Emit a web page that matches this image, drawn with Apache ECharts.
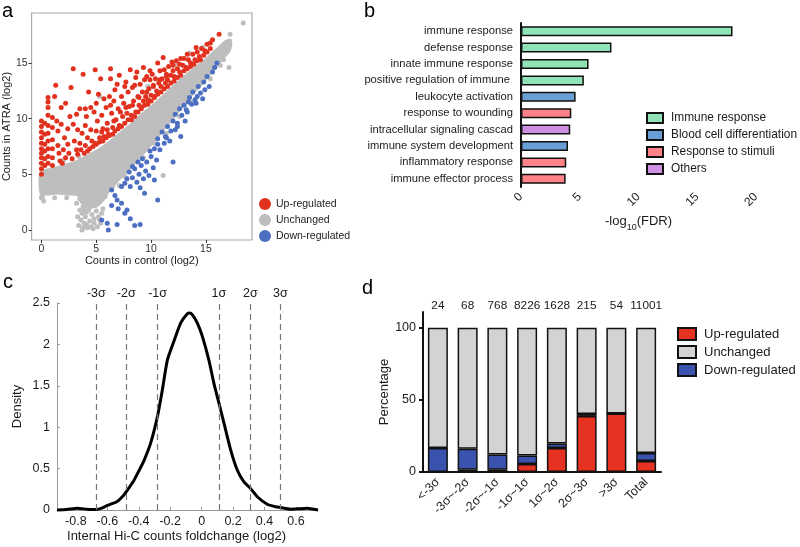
<!DOCTYPE html>
<html>
<head>
<meta charset="utf-8">
<script src="https://cdn.jsdelivr.net/npm/echarts@6/dist/echarts.min.js"></script>
<style>
  html, body { margin: 0; padding: 0; background: #fff; }
  #main { width: 800px; height: 547px; }
</style>
</head>
<body>
<div id="main"></div>
<script>
// ---------- panel a : counts scatter ----------
// dense gray cloud, outline (upper edge left->right, lower edge right->left)
var bandTop = [[-0.15,5.3],[1,5.6],[2,5.9],[3,6.2],[4,6.7],[5,7.2],[6,7.9],[7,8.7],[8,9.5],[9,10.4],[10,11.2],[11,12.1],[12,13.0],[13,13.9],[14,14.7],[15,15.5],[16,16.4],[16.8,17.1],[17.3,17.2],[17.4,16.6]];
var bandBottom = [[17.2,16.0],[16.5,15.2],[16,14.6],[15,13.4],[14,12.3],[13,11.1],[12,9.9],[11,8.7],[10,7.5],[9,6.4],[8,5.3],[7,4.3],[6.2,3.4],[5.7,2.6],[5.3,2.2],[4.6,1.9],[4.0,2.0],[3.5,2.5],[3.3,3.0],[2.5,3.1],[1.5,3.2],[0.5,3.1],[-0.15,3.2]];
var grayPts = [[18.4,18.6],[17.1,14.6],[16.6,15.3],[17.2,17.6],[11.1,4.9],[5.3,12.0],[3.7,0.0],[3.6,0.9],[3.7,1.5],[3.8,2.1],[4.0,1.2],[4.1,0.5],[4.3,1.8],[4.4,0.8],[4.6,1.4],[4.8,0.6],[4.9,2.2],[5.0,1.7],[5.1,0.3],[5.2,1.2],[5.6,1.9],[4.2,0.2],[3.9,0.6],[4.7,0.1],[5.4,0.6],[3.5,1.8],[5.8,3.0],[6.5,3.9],[7.1,4.0],[7.6,4.8],[8.2,5.7],[9.3,6.5],[10.3,7.8],[11.4,8.7],[12.6,10.2],[13.6,11.5],[15.4,13.6],[16.3,14.8],[0,2.9],[0.2,2.6],[0.1,3.0],[1.2,2.9],[2.3,2.9],[0.0,4.0],[2.0,6.3],[3.4,6.6],[12.2,14.9],[14.7,16.4],[13.5,15.9],[9.7,12.9],
  [3.3,1.2],[3.4,0.4],[3.5,2.8],[4.0,2.5],[4.4,2.7],[4.5,0.3],[4.8,1.0],[5.3,0.9],[5.5,1.5],[3.8,0.2],[4.1,1.6],[4.6,2.5],[3.2,2.4],[3.9,1.8]];
var redPts = [[0,5.0],[0,5.5],[0,6.0],[0,6.5],[0,6.9],[0,7.3],[0,7.8],[0,8.3],[0,8.8],[0,9.3],[0,9.8],
  [0.3,5.8],[0.3,6.4],[0.3,7.1],[0.3,7.7],[0.3,8.6],[0.3,9.6],
  [0.6,6.0],[0.6,6.6],[0.6,7.3],[0.6,8.0],[0.6,8.7],[0.6,9.4],[0.6,10.3],[0.6,11.0],[0.6,11.5],[0.6,11.9],
  [1.0,5.8],[1.0,6.5],[1.0,7.3],[1.0,8.1],[1.0,9.2],[1.0,10.1],
  [1.3,13.0],[1.2,12.0],[1.4,9.8],[1.5,8.9],[1.5,7.6],[1.6,6.9],[1.7,6.2],[1.9,6.0],
  [2.0,7.2],[2.1,8.3],[2.2,6.5],[2.4,7.7],[2.5,6.9],[2.6,10.2],[2.7,12.8],[2.9,14.5],[2.8,6.4],
  [3.0,8.0],[3.2,7.2],[3.3,9.0],[3.5,10.9],[3.5,7.8],[3.7,8.7],[3.8,14.0],[3.9,6.9],[4.0,9.4],[4.0,7.6],[4.1,10.2],[4.2,8.3],[4.3,12.4],[4.4,7.3],[4.5,9.0],[4.6,8.0],[4.8,10.6],[4.9,14.4],[4.9,7.8],[5.0,8.9],[5.1,9.8],[5.2,12.2],[5.3,8.3],[5.4,13.6],[5.5,10.3],[5.6,9.1],[5.7,8.4],[5.9,11.0],[6.0,9.6],[6.1,8.6],[6.2,12.0],[6.3,14.5],[6.3,13.6],[6.4,10.5],[6.5,9.2],[6.6,11.6],[6.8,9.9],[6.9,13.1],[7.0,10.9],[7.1,13.9],[7.1,9.4],[7.3,12.0],[7.4,10.2],[7.5,11.4],[7.7,13.3],[7.8,10.5],[7.9,12.4],[8.0,11.1],[8.1,14.4],[8.2,9.9],[8.3,12.8],[8.4,11.6],[8.5,13.0],[8.6,10.6],[8.7,14.2],[8.8,12.0],[8.9,11.2],[9.0,13.1],[9.1,10.9],[9.2,12.4],[9.3,11.6],[9.4,13.5],[9.5,12.0],[9.6,13.8],[9.7,11.7],[9.8,12.7],[9.9,13.5],[10.0,12.1],[10.1,14.0],[10.2,12.9],[10.3,11.9],[10.4,13.6],[10.5,12.5],[10.6,15.0],[10.7,13.2],[10.8,14.3],[10.9,12.9],[11.0,13.6],[11.1,15.5],[11.2,14.4],[11.3,13.2],[11.4,14.0],[11.5,13.5],[11.6,14.7],[11.8,13.9],[11.9,15.1],[12.0,14.3],[12.1,13.8],[12.3,15.2],[12.4,14.5],[12.6,14.2],[12.7,15.4],[12.9,14.8],[13.0,15.4],[13.2,14.6],[13.4,15.3],[13.6,15.0],[13.8,15.8],[14.0,15.3],[14.2,16.0],[14.4,15.6],[14.6,16.3],[14.9,16.1],[15.1,16.7],[15.4,16.8],[15.6,17.1],[16.2,17.6],
  [3.3,6.8],[3.6,7.2],[4.2,7.1],[4.7,7.5],[5.0,7.7],[5.3,7.9],[5.6,8.0],[5.9,8.3],[6.2,8.5],[6.5,8.6],[6.7,8.9],[7.0,9.1],[7.3,9.3],[7.6,9.6],[7.9,9.9],[8.2,10.3],[8.5,10.2],[8.8,10.6],[9.1,11.0],[9.4,11.2],[9.7,11.3],[10.0,11.6],[10.3,12.0],[10.6,12.2],[10.9,12.4],[11.2,12.7],[11.5,12.9],[11.8,13.2],[12.1,13.4],[12.4,13.7],[12.7,13.9],[13.0,14.3],[13.3,14.5],[13.6,14.7],[13.9,14.9],[14.2,15.2],[14.5,15.3],[14.8,15.7],[15.1,16.0],[15.4,16.3],
  [5.5,8.8],[6.0,9.0],[6.6,9.8],[7.2,10.6],[7.7,11.0],[8.3,11.2],[8.9,11.9],[9.6,12.4],[10.2,13.0],[10.8,13.5],[11.4,13.8],[12.0,14.8],[12.6,14.9],[13.3,15.8],[14.1,16.4],[6.3,11.2],[5.7,11.8],[5.0,11.4],[4.5,11.0],[6.7,12.6],[7.6,12.9],[8.6,13.7],[9.3,14.6],[9.9,14.3],[4.0,10.9],[3.2,10.4],[2.9,9.5],[2.4,9.1],[1.8,9.5],[2.2,11.4],[1.8,11.0]];
var bluePts = [[5.5,0.9],[6.0,0.6],[6.1,0.0],[6.9,0.5],[6.4,2.2],[6.9,2.7],[7.0,1.9],[7.3,2.4],[7.6,1.5],[7.8,1.8],[8.1,1.0],[8.5,0.4],[9.0,0.5],[6.4,3.6],[6.7,3.1],[7.3,3.9],[10.6,2.7],[9.4,3.3],
  [7.6,4.2],[7.8,4.6],[8.0,5.2],[8.1,3.9],[8.3,4.7],[8.5,5.5],[8.7,4.3],[8.9,5.0],[9.0,3.8],[9.1,5.8],[9.3,4.6],[9.5,5.3],[9.6,6.1],[9.8,4.9],[10.0,6.6],[10.2,5.6],[10.3,4.5],[10.5,6.3],[12.0,6.1],
  [10.3,7.3],[10.6,8.2],[10.8,7.2],[11.0,8.8],[11.2,7.8],[11.3,8.4],[11.5,9.3],[11.7,8.0],[11.8,8.9],[12.0,9.8],[12.2,9.0],[12.2,10.4],[12.4,9.6],[12.6,10.9],[12.7,8.4],[12.8,10.3],[13.0,11.2],[13.1,9.8],[13.2,10.8],
  [13.4,11.5],[13.5,11.9],[13.7,11.3],[13.8,12.4],[14.0,11.7],[14.2,12.0],[14.3,12.9],[14.5,12.3],[14.7,11.8],[14.8,13.3],[15.1,13.8],[15.3,12.9],[15.6,14.2],[15.8,14.6],[16.0,15.0],
  [8.8,6.1],[9.2,6.4],[9.9,7.1],[10.6,7.7],[11.4,8.3],[12.4,9.3],[13.3,10.6],[14.1,11.4],[14.9,12.6],[8.3,5.7]];
var aTicks = [0, 5, 10, 15];

// ---------- panel b : GO terms ----------
var goTerms = ['immune response','defense response','innate immune response','positive regulation of immune ','leukocyte activation','response to wounding','intracellular signaling cascad','immune system development','inflammatory response','immune effector process'];
var goValues = [18.0, 7.7, 5.75, 5.35, 4.65, 4.28, 4.19, 4.0, 3.85, 3.8];
var goGroup = [0, 0, 0, 0, 1, 2, 3, 1, 2, 2];
var goGroupNames = ['Immune response','Blood cell differentiation','Response to stimuli','Others'];
var goColors = ['#8FE3B7', '#6A9FD6', '#FF8288', '#CF8FE2'];

// ---------- panel c : density ----------
var densityPts = [[-0.92,0.0],[-0.86,0.005],[-0.79,0.02],[-0.73,0.01],[-0.68,0.005],[-0.64,0.02],[-0.6,0.055],[-0.54,0.1],[-0.5,0.17],[-0.48,0.22],[-0.43,0.36],[-0.4,0.47],[-0.366,0.6],[-0.324,0.81],[-0.281,1.13],[-0.25,1.45],[-0.218,1.81],[-0.176,2.04],[-0.133,2.26],[-0.091,2.37],[-0.075,2.38],[-0.06,2.36],[-0.028,2.26],[0.004,2.1],[0.046,1.81],[0.078,1.53],[0.11,1.29],[0.142,1.05],[0.184,0.73],[0.227,0.48],[0.269,0.34],[0.311,0.26],[0.354,0.16],[0.417,0.07],[0.47,0.04],[0.502,0.03],[0.565,0.01],[0.62,0.015],[0.67,0.02],[0.74,0.0]];
var sigmaX = [-0.674, -0.478, -0.282, 0.11, 0.306, 0.502];
var sigmaNames = ['-3σ', '-2σ', '-1σ', '1σ', '2σ', '3σ'];
var cTicks = [-0.8, -0.6, -0.4, -0.2, 0, 0.2, 0.4, 0.6];

// ---------- panel d : percentage bars ----------
var bins = ['<-3σ', '-3σ~-2σ', '-2σ~-1σ', '-1σ~1σ', '1σ~2σ', '2σ~3σ', '>3σ', 'Total'];
var binCounts = ['24', '68', '768', '8226', '1628', '215', '54', '11001'];
var upPct = [0, 1.5, 1.6, 5.5, 16.6, 38.9, 40.5, 7.6];
var downPct = [16.6, 14.7, 10.6, 6.0, 3.2, 1.4, 0, 5.5];
var unchPct = [83.4, 83.8, 87.8, 88.5, 80.2, 59.7, 59.5, 86.9];

var FONT = 'Liberation Sans';
var TXT = '#1a1a1a';
var chart = echarts.init(document.getElementById('main'));

function bSeries(k) {
  return {
    name: goGroupNames[k],
    type: 'bar',
    xAxisIndex: 1,
    yAxisIndex: 1,
    stack: 'go',
    barWidth: 10,
    itemStyle: { color: goColors[k], borderColor: '#111', borderWidth: 1.5 },
    data: goValues.map(function (v, i) { return goGroup[i] === k ? v : '-'; })
  };
}

function dSeries(name, color, data) {
  return {
    name: name,
    type: 'bar',
    xAxisIndex: 3,
    yAxisIndex: 3,
    stack: 'pct',
    barWidth: 20,
    itemStyle: { color: color, borderColor: '#111', borderWidth: 1.5 },
    data: data
  };
}

var option = {
  animation: false,
  backgroundColor: '#fff',
  textStyle: { fontFamily: FONT, color: TXT },
  graphic: [
    { type: 'text', left: 2, top: 1, style: { text: 'a', font: '20px ' + FONT, fill: '#000' } },
    { type: 'text', left: 364, top: 1, style: { text: 'b', font: '20px ' + FONT, fill: '#000' } },
    { type: 'text', left: 3, top: 272, style: { text: 'c', font: '20px ' + FONT, fill: '#000' } },
    { type: 'text', left: 362, top: 278, style: { text: 'd', font: '20px ' + FONT, fill: '#000' } }
  ],
  grid: [
    { left: 29, top: 13, width: 223, height: 227, show: true, borderColor: '#aaa', borderWidth: 1.2, backgroundColor: 'transparent' },
    { left: 521, top: 23, width: 235, height: 164 },
    { left: 57, top: 303, width: 261, height: 207 },
    { left: 423, top: 312, width: 238, height: 160 }
  ],
  legend: [
    {
      orient: 'vertical', left: 259, top: 198, padding: 0, itemWidth: 12, itemHeight: 12, itemGap: 4,
      icon: 'circle', selectedMode: false,
      data: ['a:Up-regulated', 'a:Unchanged', 'a:Down-regulated'],
      formatter: function (n) { return n.replace('a:', ''); },
      textStyle: { fontSize: 10.5, color: TXT, fontFamily: FONT }
    },
    {
      orient: 'vertical', left: 646, top: 112, padding: 0, itemWidth: 16, itemHeight: 10, itemGap: 5,
      icon: 'rect', selectedMode: false,
      data: goGroupNames,
      textStyle: { fontSize: 11.9, color: TXT, fontFamily: FONT, padding: [0, 0, 0, 3] }
    },
    {
      orient: 'vertical', left: 677, top: 327, padding: 0, itemWidth: 18, itemHeight: 12, itemGap: 4,
      icon: 'rect', selectedMode: false,
      data: ['Up-regulated', 'Unchanged', 'Down-regulated'],
      textStyle: { fontSize: 13, color: TXT, fontFamily: FONT, padding: [0, 0, 0, 3] }
    }
  ],
  xAxis: [
    {
      gridIndex: 0, type: 'value', min: -0.9, max: 19.2,
      name: 'Counts in control (log2)', nameLocation: 'middle', nameGap: 14,
      nameTextStyle: { fontSize: 11, color: TXT },
      axisLine: { show: false, onZero: false },
      axisTick: { show: true, length: 3, customValues: aTicks, lineStyle: { color: '#333' } },
      axisLabel: { customValues: aTicks, margin: 4, fontSize: 10.5, color: '#333' },
      splitLine: { show: false }
    },
    {
      gridIndex: 1, type: 'value', min: 0, max: 20, interval: 5,
      name: '-log{sub|10}(FDR)', nameLocation: 'middle', nameGap: 23,
      nameTextStyle: { fontSize: 13, color: TXT, rich: { sub: { fontSize: 9, lineHeight: 22, verticalAlign: 'bottom' } } },
      axisLine: { onZero: false, lineStyle: { color: '#111', width: 2 } },
      axisTick: { length: 4, lineStyle: { color: '#111', width: 2 } },
      axisLabel: { rotate: 45, margin: 8, fontSize: 12, color: TXT },
      splitLine: { show: false }
    },
    {
      gridIndex: 2, type: 'value', min: -0.92, max: 0.74,
      name: 'Internal Hi-C counts foldchange (log2)', nameLocation: 'middle', nameGap: 20,
      nameTextStyle: { fontSize: 13, color: TXT, padding: [0, 22, 0, 0] },
      axisLine: { onZero: false, lineStyle: { color: '#999', width: 1 } },
      axisTick: { inside: true, length: 3, customValues: cTicks, lineStyle: { color: '#999' } },
      axisLabel: { customValues: cTicks, margin: 5, fontSize: 12.5, color: TXT },
      splitLine: { show: false }
    },
    {
      gridIndex: 3, type: 'category', data: bins,
      axisLine: { lineStyle: { color: '#111', width: 2 } },
      axisTick: { alignWithLabel: true, length: 4, lineStyle: { color: '#111', width: 2 } },
      axisLabel: { rotate: 45, margin: 8, fontSize: 12.5, color: TXT, interval: 0 },
      splitLine: { show: false }
    },
    {
      gridIndex: 3, type: 'category', data: binCounts, position: 'top',
      axisLine: { show: false }, axisTick: { show: false },
      axisLabel: { margin: 0, fontSize: 11.8, color: TXT, interval: 0 },
      splitLine: { show: false }
    }
  ],
  yAxis: [
    {
      gridIndex: 0, type: 'value', min: -0.9, max: 19.5,
      name: 'Counts in ATRA (log2)', nameLocation: 'middle', nameGap: 17,
      nameTextStyle: { fontSize: 11, color: TXT },
      axisLine: { show: false, onZero: false },
      axisTick: { show: true, length: 3, customValues: aTicks, lineStyle: { color: '#333' } },
      axisLabel: { customValues: aTicks, margin: 4, fontSize: 10.5, color: '#333' },
      splitLine: { show: false }
    },
    {
      gridIndex: 1, type: 'category', data: goTerms, inverse: true,
      axisLine: { onZero: false, lineStyle: { color: '#111', width: 2 } },
      axisTick: { alignWithLabel: true, length: 4, lineStyle: { color: '#111', width: 2 } },
      axisLabel: { margin: 8, fontSize: 11.2, color: TXT, interval: 0 },
      splitLine: { show: false }
    },
    {
      gridIndex: 2, type: 'value', min: 0, max: 2.5, interval: 0.5,
      name: 'Density', nameLocation: 'middle', nameGap: 33,
      nameTextStyle: { fontSize: 13, color: TXT },
      axisLine: { show: true, onZero: false, lineStyle: { color: '#999', width: 1 } },
      axisTick: { show: true, inside: true, length: 3, lineStyle: { color: '#999' } },
      axisLabel: { margin: 7, fontSize: 12.5, color: TXT },
      splitLine: { show: false }
    },
    {
      gridIndex: 3, type: 'value', min: 0, max: 111,
      name: 'Percentage', nameLocation: 'middle', nameGap: 27,
      nameTextStyle: { fontSize: 13, color: TXT },
      axisLine: { show: true, onZero: false, lineStyle: { color: '#111', width: 2 } },
      axisTick: { show: true, length: 4, customValues: [0, 50, 100], lineStyle: { color: '#111', width: 2 } },
      axisLabel: { customValues: [0, 50, 100], margin: 7, fontSize: 12.5, color: TXT },
      splitLine: { show: false }
    }
  ],
  series: [
    {
      name: 'a:band', type: 'custom', xAxisIndex: 0, yAxisIndex: 0, silent: true,
      data: [[0, 0]],
      renderItem: function (params, api) {
        var pts = bandTop.concat(bandBottom).map(function (p) { return api.coord(p); });
        return { type: 'polygon', shape: { points: pts, smooth: 0.25 }, style: { fill: '#BEBEBE' } };
      }
    },
    { name: 'a:Unchanged', type: 'scatter', xAxisIndex: 0, yAxisIndex: 0, symbolSize: 5, itemStyle: { color: '#BEBEBE', opacity: 1 }, data: grayPts },
    { name: 'a:Up-regulated', type: 'scatter', xAxisIndex: 0, yAxisIndex: 0, symbolSize: 5, itemStyle: { color: '#E2321F', opacity: 1 }, data: redPts },
    { name: 'a:Down-regulated', type: 'scatter', xAxisIndex: 0, yAxisIndex: 0, symbolSize: 5, itemStyle: { color: '#4C6FC2', opacity: 1 }, data: bluePts },

    bSeries(0), bSeries(1), bSeries(2), bSeries(3),

    {
      name: 'density', type: 'line', xAxisIndex: 2, yAxisIndex: 2,
      data: densityPts, smooth: 0.2, showSymbol: false, clip: false,
      lineStyle: { color: '#000', width: 3 },
      markLine: {
        silent: true, symbol: ['none', 'none'],
        lineStyle: { color: '#777', width: 1.2, type: [6, 4] },
        label: { position: 'end', distance: 3, fontSize: 12.5, color: TXT, fontFamily: FONT },
        data: sigmaX.map(function (x, i) { return { xAxis: x, label: { formatter: sigmaNames[i] } }; })
      }
    },

    dSeries('Up-regulated', '#E53223', upPct),
    dSeries('Down-regulated', '#3A53AE', downPct),
    dSeries('Unchanged', '#D3D3D3', unchPct)
  ]
};

chart.setOption(option);
</script>
</body>
</html>
